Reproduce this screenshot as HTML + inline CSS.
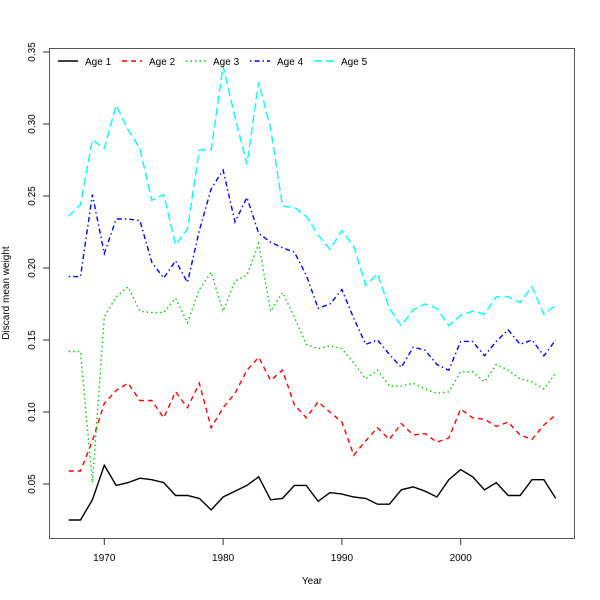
<!DOCTYPE html>
<html><head><meta charset="utf-8"><style>
body{margin:0;background:#fff}
svg{display:block;font-family:"Liberation Sans",sans-serif}
</style></head><body>
<svg id="chart" width="600" height="600">
<rect x="0" y="0" width="600" height="600" fill="#fff"/>
<rect x="49.5" y="48.5" width="525" height="490" fill="none" stroke="#555" stroke-width="1"/>
<g id="axes"></g><g id="series"></g><g id="legend"></g>
<text x="312" y="584" font-size="10" text-anchor="middle">Year</text>
<text transform="translate(9,293) rotate(-90)" font-size="10" text-anchor="middle">Discard mean weight</text>
</svg>
<script>
const years = [];
for (let y = 1967; y <= 2008; y++) years.push(y);
const age1 = [.025,.025,.039,.063,.049,.051,.054,.053,.051,.042,.042,.040,.032,.041,.045,.049,.055,.039,.040,.049,.049,.038,.044,.043,.041,.040,.036,.036,.046,.048,.045,.041,.053,.060,.055,.046,.051,.042,.042,.053,.053,.040];
const age2 = [.059,.059,.080,.106,.115,.120,.108,.108,.096,.114,.103,.120,.089,.103,.113,.129,.138,.122,.129,.105,.096,.107,.100,.093,.070,.080,.089,.081,.092,.084,.085,.079,.082,.102,.096,.095,.090,.093,.084,.081,.091,.098];
const age3 = [.142,.142,.051,.166,.180,.187,.170,.169,.169,.179,.162,.185,.197,.170,.191,.195,.217,.170,.183,.166,.147,.144,.146,.144,.134,.123,.129,.118,.118,.120,.116,.113,.114,.128,.128,.121,.133,.129,.123,.121,.116,.127];
const age4 = [.194,.194,.251,.210,.234,.234,.233,.204,.193,.205,.190,.226,.255,.268,.232,.249,.224,.218,.214,.211,.195,.172,.175,.185,.165,.147,.150,.140,.131,.145,.143,.133,.129,.149,.149,.139,.149,.157,.147,.150,.139,.150];
const age5 = [.236,.244,.289,.283,.313,.296,.283,.247,.251,.216,.227,.282,.282,.340,.305,.272,.329,.297,.243,.242,.236,.223,.213,.226,.215,.188,.196,.172,.160,.171,.175,.172,.160,.167,.170,.168,.180,.180,.176,.187,.168,.174];
const xTicks = [1970,1980,1990,2000];
const yTicks = [0.05,0.10,0.15,0.20,0.25,0.30,0.35];
const seriesNames = ["Age 1","Age 2","Age 3","Age 4","Age 5"];

const NS = "http://www.w3.org/2000/svg";
const xs = y => 104.3 + (y - 1970) * 11.88;
const ys = v => 484 - (v - 0.05) * 1440;
function mk(tag, attrs, parent){const e=document.createElementNS(NS,tag);for(const k in attrs)e.setAttribute(k,attrs[k]);parent.appendChild(e);return e;}
const axes=document.getElementById('axes');
xTicks.forEach(t=>{
  const l=mk('line',{x1:xs(t),x2:xs(t),y1:538.5,y2:545,stroke:'#333'},axes);
  
  
  const tx=mk('text',{x:xs(t),y:561,'font-size':10,'text-anchor':'middle'},axes);
  tx.textContent=t;
  
  
});
yTicks.forEach(t=>{
  const l=mk('line',{x1:43,x2:49.5,y1:ys(t),y2:ys(t),stroke:'#333'},axes);
  
  
  const tx=mk('text',{transform:`translate(35,${ys(t)}) rotate(-90)`,'font-size':10,'text-anchor':'middle'},axes);
  tx.textContent=t.toFixed(2);
  
  
});
const data=[age1,age2,age3,age4,age5];
const colors=['#000','#f00','#0c0','#00f','#0ff'];
const dashes=['none','5,4','1.5,3','1.5,3,5,3','8,4'];
const sg=document.getElementById('series');
data.forEach((d,i)=>{
  const pts=d.map((v,j)=>xs(years[j]).toFixed(1)+','+ys(v).toFixed(1)).join(' ');
  const p=mk('polyline',{points:pts,fill:'none',stroke:colors[i],'stroke-width':1.4,'stroke-dasharray':dashes[i]},sg);
  
  
});
const lg=document.getElementById('legend');
seriesNames.forEach((n,i)=>{
  const x0=58+i*64;
  const l=mk('line',{x1:x0,x2:x0+20,y1:61,y2:61,stroke:colors[i],'stroke-width':1.4,'stroke-dasharray':dashes[i]},lg);
  
  
  const t=mk('text',{x:x0+27,y:65,'font-size':10},lg);
  t.textContent=n;
  
  
});
</script>
</body></html>
